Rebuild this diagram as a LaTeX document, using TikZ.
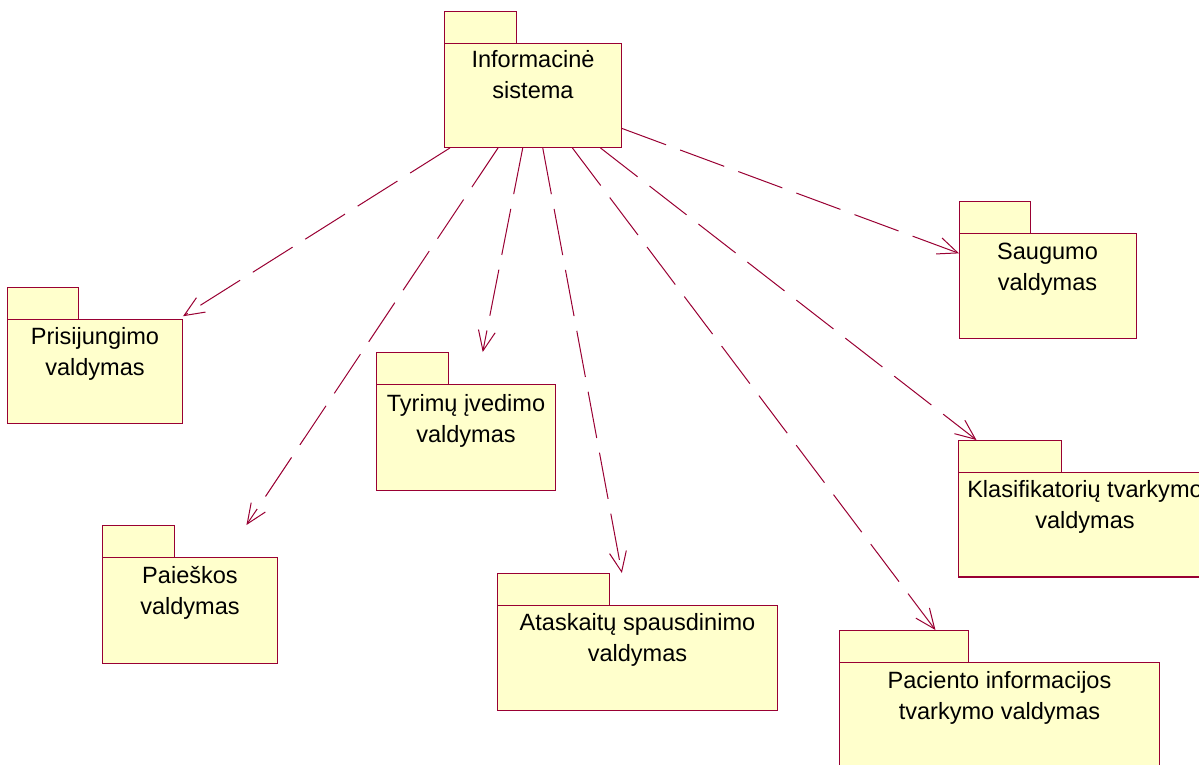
\documentclass[tikz,border=0pt]{standalone}
\usepackage{fontspec}
\setmainfont{Liberation Sans}
\usepackage{xcolor}
\usepackage{tikz}
\usetikzlibrary{arrows.meta}
\definecolor{rosered}{RGB}{153,0,51}
\definecolor{roseyellow}{RGB}{255,255,204}
\tikzset{>={Straight Barb[length=0.4cm, width=0.34cm]}}
\tikzstyle{pkg} = [rectangle, draw=rosered, fill=roseyellow, line width=0.57pt, inner sep=0, outer sep=0]
\tikzstyle{dst} = [pkg, outer ysep=0.64cm]
\tikzstyle{tab} = [pkg, minimum height=0.64cm]
\tikzstyle{lbl} = [draw=none, inner sep=0, align=center, anchor=base, font=\fontsize{13.4}{17.6}\selectfont]
\tikzstyle{dep} = [->, draw=rosered, line width=0.57pt, dash pattern=on 0.94cm off 0.3cm]

\begin{document}
\begin{tikzpicture}[x=0.02cm, y=-0.02cm]
\useasboundingbox (0, 0) rectangle (1199, 764);

% source package
\node [pkg, minimum width=3.56cm, minimum height=2.1cm] (info) at (533, 95.5) {};
\node [tab, minimum width=1.44cm, anchor=south west] (info-tab) at (info.north west) {};
\node [lbl] (info-txt) at ([yshift=-0.05cm]info.center) {Informacinė\\sistema};

% sub packages
\node [dst, minimum width=3.52cm, minimum height=2.1cm] (pris) at (95, 371.5) {};
\node [tab, minimum width=1.42cm, anchor=north west] (pris-tab) at (pris.north west) {};
\node [lbl] (pris-txt) at ([yshift=-0.08cm]pris.center) {Prisijungimo\\valdymas};

\node [dst, minimum width=3.6cm, minimum height=2.14cm] (tyr) at (466, 437.5) {};
\node [tab, minimum width=1.44cm, anchor=north west] (tyr-tab) at (tyr.north west) {};
\node [lbl] (tyr-txt) at ([yshift=-0.1cm]tyr.center) {Tyrimų įvedimo\\valdymas};

\node [dst, minimum width=3.54cm, minimum height=2.12cm] (saug) at (1047.5, 286) {};
\node [tab, minimum width=1.42cm, anchor=north west] (saug-tab) at (saug.north west) {};
\node [lbl] (saug-txt) at ([yshift=-0.08cm]saug.center) {Saugumo\\valdymas};

\node [dst, minimum width=3.52cm, minimum height=2.12cm] (paie) at (190, 610) {};
\node [tab, minimum width=1.44cm, anchor=north west] (paie-tab) at (paie.north west) {};
\node [lbl] (paie-txt) at ([yshift=-0.08cm]paie.center) {Paieškos\\valdymas};

\node [dst, minimum width=5.62cm, minimum height=2.1cm] (atas) at (637.5, 657.5) {};
\node [tab, minimum width=2.24cm, anchor=north west] (atas-tab) at (atas.north west) {};
\node [lbl] (atas-txt) at ([yshift=-0.08cm]atas.center) {Ataskaitų spausdinimo\\valdymas};

\node [dst, minimum width=5.08cm, minimum height=2.1cm] (klas) at (1085, 524.5) {};
\node [tab, minimum width=2.06cm, anchor=north west] (klas-tab) at (klas.north west) {};
\node [lbl] (klas-txt) at ([yshift=-0.08cm]klas.center) {Klasifikatorių tvarkymo\\valdymas};

\node [dst, minimum width=6.42cm, minimum height=2.14cm] (pac) at (999.5, 715.5) {};
\node [tab, minimum width=2.58cm, anchor=north west] (pac-tab) at (pac.north west) {};
\node [lbl] (pac-txt) at ([yshift=-0.08cm]pac.center) {Paciento informacijos\\tvarkymo valdymas};

% dependencies
\draw [dep] (info) to (pris);
\draw [dep] (info) to (paie);
\draw [dep] (info) to (tyr);
\draw [dep] (info) to (atas);
\draw [dep] (info) to (pac);
\draw [dep] (info) to (klas);
\draw [dep] (info) to (saug);
\end{tikzpicture}
\end{document}
